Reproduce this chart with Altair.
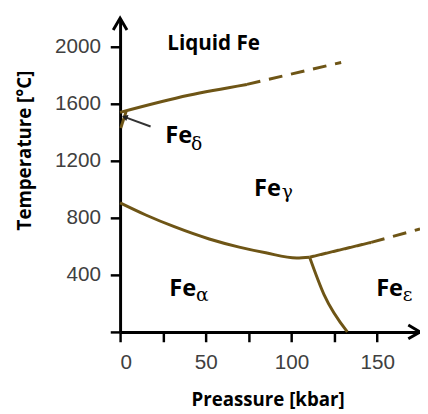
import altair as alt
import pandas as pd

# axis extents (data units)
X_MAX = 175
Y_MAX = 2200
X_TICKS = [0, 25, 50, 75, 100, 125, 150]
Y_TICKS = [0, 400, 800, 1200, 1600, 2000]

# phase boundaries (pressure kbar, temperature °C)
LIQ_SOLID_P = [0, 40, 74]
LIQ_SOLID_T = [1540, 1660, 1736]
LIQ_DASH_P = [74, 129]
LIQ_DASH_T = [1736, 1890]
DELTA_P = [0.4, 3.5]
DELTA_T = [1430, 1545]
AG_P = [0, 15, 31.6, 52, 69.5, 85, 103, 110.6]
AG_T = [905, 820, 738, 652, 595, 555, 519, 524]
GE_SOLID_P = [110.6, 146.5]
GE_SOLID_T = [524, 628]
GE_DASH_P = [146.5, 175]
GE_DASH_T = [628, 722]
AE_P = [110.6, 119, 132.6]
AE_T = [524, 262, 0]

# labels
LIQ_LABEL = ["Liquid Fe"]
LIQ_LABEL_P = [27.5]
LIQ_LABEL_T = [1979]
FE_TEXT = ["Fe", "Fe", "Fe", "Fe"]
FE_P = [26.4, 78.2, 28.7, 149.4]
FE_T = [1324, 952, 255, 255]
GREEK = ["δ", "γ", "α", "ε"]
GREEK_P = [41.4, 94.3, 44.3, 164.9]
GREEK_T = [1276, 938, 214, 214]

# pointer arrow to Fe-delta field
PTR_P = [17.8]
PTR_T = [1441]
PTR_P2 = [3.2]
PTR_T2 = [1505]

LINE_COLOR = "#6E5516"

curved = [
    ("liq", "solid", LIQ_SOLID_P, LIQ_SOLID_T),
    ("ag", "solid", AG_P, AG_T),
    ("ae", "solid", AE_P, AE_T),
]
straight = [
    ("liqd", "dashed", LIQ_DASH_P, LIQ_DASH_T),
    ("delta", "solid", DELTA_P, DELTA_T),
    ("ge", "solid", GE_SOLID_P, GE_SOLID_T),
    ("ged", "dashed", GE_DASH_P, GE_DASH_T),
]


def to_df(segments):
    rows = []
    for name, style, ps, ts in segments:
        for i, (p, t) in enumerate(zip(ps, ts)):
            rows.append({"p": p, "t": t, "seg": name, "style": style, "ord": i})
    return pd.DataFrame(rows)


xscale = alt.Scale(domain=[0, X_MAX], nice=False, zero=False)
yscale = alt.Scale(domain=[0, Y_MAX], nice=False, zero=False)

x_axis = alt.Axis(
    values=X_TICKS,
    format="d",
    labelExpr="datum.value % 50 == 0 ? datum.label : ''",
    grid=False,
    domainColor="black", domainWidth=3,
    tickColor="black", tickWidth=2.5, tickSize=10,
    labelFont="Liberation Sans", labelFontSize=21, labelColor="#404040",
    labelPadding=10,
    title="Preassure [kbar]",
    titleFont="Open Sans", titleFontWeight="bold", titleFontSize=19, titleColor="black",
    titleX=150, titleY=75, titleAlign="center", titleBaseline="alphabetic",
)
y_axis = alt.Axis(
    values=Y_TICKS,
    format="d",
    labelExpr="datum.value == 0 ? '' : datum.label",
    grid=False,
    domainColor="black", domainWidth=3,
    tickColor="black", tickWidth=2.5, tickSize=10,
    labelFont="Liberation Sans", labelFontSize=21, labelColor="#404040",
    labelPadding=10,
    title="Temperature [°C]",
    titleFont="Open Sans", titleFontWeight="bold", titleFontSize=19, titleColor="black",
    titleAngle=270, titleX=-91, titleY=134, titleAlign="center", titleBaseline="alphabetic",
)

dash_enc = alt.StrokeDash(
    "style:N",
    scale=alt.Scale(domain=["solid", "dashed"], range=[[1, 0], [14, 9]]),
    legend=None,
)

lines_straight = alt.Chart(to_df(straight)).mark_line(
    color=LINE_COLOR, strokeWidth=3, interpolate="linear"
).encode(
    x=alt.X("p:Q", scale=xscale, axis=x_axis),
    y=alt.Y("t:Q", scale=yscale, axis=y_axis),
    detail="seg:N",
    order="ord:Q",
    strokeDash=dash_enc,
)

lines_curved = alt.Chart(to_df(curved)).mark_line(
    color=LINE_COLOR, strokeWidth=3, interpolate="monotone"
).encode(
    x=alt.X("p:Q", scale=xscale),
    y=alt.Y("t:Q", scale=yscale),
    detail="seg:N",
)

arrow_up = alt.Chart(pd.DataFrame({"p": [0], "t": [Y_MAX]})).mark_point(
    shape="M-0.5,0.85L0,0L0.5,0.85", size=784, filled=False,
    stroke="black", strokeWidth=3, opacity=1,
).encode(x=alt.X("p:Q", scale=xscale), y=alt.Y("t:Q", scale=yscale))

arrow_right = alt.Chart(pd.DataFrame({"p": [X_MAX], "t": [0]})).mark_point(
    shape="M-0.85,-0.5L0,0L-0.85,0.5", size=784, filled=False,
    stroke="black", strokeWidth=3, opacity=1,
).encode(x=alt.X("p:Q", scale=xscale), y=alt.Y("t:Q", scale=yscale))

ptr_df = pd.DataFrame({"p": PTR_P, "t": PTR_T, "p2": PTR_P2, "t2": PTR_T2})
pointer = alt.Chart(ptr_df).mark_rule(color="#333333", strokeWidth=2).encode(
    x=alt.X("p:Q", scale=xscale), y=alt.Y("t:Q", scale=yscale),
    x2="p2:Q", y2="t2:Q",
)
pointer_head = alt.Chart(pd.DataFrame({"p": PTR_P2, "t": PTR_T2})).mark_point(
    shape="triangle", size=45, filled=True, color="#222222", angle=290, opacity=1,
).encode(x=alt.X("p:Q", scale=xscale), y=alt.Y("t:Q", scale=yscale))

liq_text = alt.Chart(pd.DataFrame({"p": LIQ_LABEL_P, "t": LIQ_LABEL_T, "s": LIQ_LABEL})).mark_text(
    font="Open Sans", fontWeight="bold", fontSize=21, align="left", baseline="alphabetic", color="black"
).encode(x=alt.X("p:Q", scale=xscale), y=alt.Y("t:Q", scale=yscale), text="s:N")

fe_text = alt.Chart(pd.DataFrame({"p": FE_P, "t": FE_T, "s": FE_TEXT})).mark_text(
    font="Open Sans", fontWeight="bold", fontSize=24, align="left", baseline="alphabetic", color="black"
).encode(x=alt.X("p:Q", scale=xscale), y=alt.Y("t:Q", scale=yscale), text="s:N")

greek_text = alt.Chart(pd.DataFrame({"p": GREEK_P, "t": GREEK_T, "s": GREEK})).mark_text(
    font="DejaVu Serif", fontSize=19, align="left", baseline="alphabetic", color="black"
).encode(x=alt.X("p:Q", scale=xscale), y=alt.Y("t:Q", scale=yscale), text="s:N")

chart = alt.layer(
    lines_straight, lines_curved, arrow_up, arrow_right, pointer, pointer_head,
    liq_text, fe_text, greek_text
).properties(
    width=305, height=319,
    autosize=alt.AutoSizeParams(type="none"),
    padding={"left": 114, "top": 7, "right": 0, "bottom": 78},
).configure_view(stroke=None)

chart.save("out.html", embed_options={"renderer": "svg", "actions": False})
